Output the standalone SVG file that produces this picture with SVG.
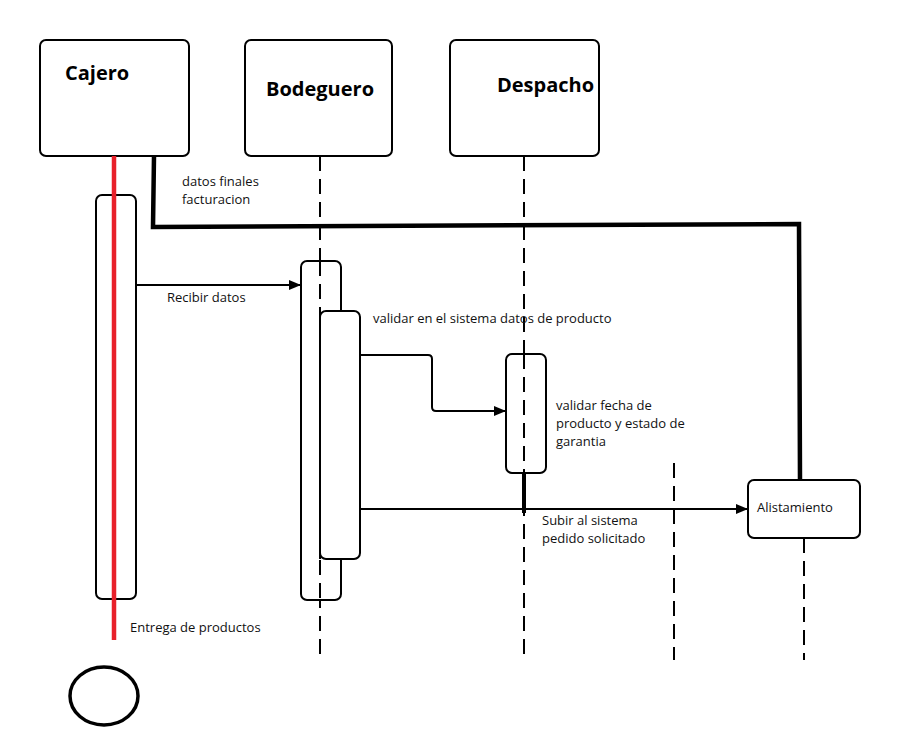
<svg xmlns="http://www.w3.org/2000/svg" width="900" height="756" viewBox="0 0 900 756">
<style>
.box{fill:#fff;stroke:#000;stroke-width:2}
.act{fill:#fff;stroke:#000;stroke-width:2}
.life{stroke:#000;stroke-width:2;stroke-dasharray:15 8;fill:none}
.title{font-family:"Open Sans","Liberation Sans",sans-serif;font-weight:bold;font-size:20px;fill:#000}
.lbl{font-family:"Open Sans","Liberation Sans",sans-serif;font-size:13px;fill:#111}
.msg{stroke:#000;stroke-width:2;fill:none}
.thick{stroke:#000;stroke-width:4.5;fill:none;stroke-linejoin:miter}
</style>
<defs>
<marker id="ah" markerWidth="12" markerHeight="10" refX="11" refY="5" orient="auto" markerUnits="userSpaceOnUse">
<path d="M0,0 L12,5 L0,10 Z" fill="#000"/>
</marker>
</defs>
<rect width="900" height="756" fill="#fff"/>
<g id="lifelines">
<line class="life" x1="320" y1="156" x2="320" y2="660"/>
<line class="life" x1="524" y1="156" x2="524" y2="660"/>
<line class="life" x1="674" y1="463" x2="674" y2="660"/>
<line class="life" x1="804" y1="538" x2="804" y2="660"/>
</g>
<g id="cajero">
<rect class="box" x="40" y="40" width="149" height="116" rx="6"/>
<text class="title" x="65" y="80">Cajero</text>
</g>
<g id="bodeguero">
<rect class="box" x="245" y="40" width="147" height="116" rx="6"/>
<text class="title" x="266" y="96">Bodeguero</text>
</g>
<g id="despacho">
<rect class="box" x="450" y="40" width="149" height="116" rx="6"/>
<text class="title" x="497" y="92">Despacho</text>
</g>
<g id="cajero-activation">
<rect class="act" x="96" y="195" width="40" height="404" rx="6"/>
</g>
<g id="bodeguero-activation">
<rect class="act" x="301" y="261" width="40" height="339" rx="6"/>
<line class="life" x1="320" y1="261" x2="320" y2="600"/>
<rect class="act" x="320" y="311" width="40" height="248" rx="6"/>
<line x1="320" y1="311" x2="320" y2="559" stroke="#000" stroke-width="2"/>
</g>
<g id="despacho-activation">
<rect class="act" x="506" y="354" width="40" height="119" rx="6"/>
<line class="life" x1="524" y1="354" x2="524" y2="473"/>
</g>
<g id="alistamiento">
<rect class="box" x="748" y="480" width="112" height="58" rx="6"/>
<text class="lbl" x="757" y="512">Alistamiento</text>
</g>
<g id="end">
<ellipse cx="104" cy="696" rx="34" ry="29" fill="none" stroke="#000" stroke-width="3.5"/>
</g>
<g id="connectors">
<line x1="114" y1="156" x2="114" y2="640" stroke="#e8202a" stroke-width="4.5"/>
<polyline class="thick" points="154,156 153,227 799,224 800,480"/>
<line class="msg" x1="136" y1="285" x2="300" y2="285" marker-end="url(#ah)"/>
<path class="msg" d="M360,355 H428 Q432,355 432,359 V407 Q432,411 436,411 H505" marker-end="url(#ah)"/>
<line class="msg" x1="360" y1="509" x2="747" y2="509" marker-end="url(#ah)"/>
<line x1="524" y1="473" x2="524" y2="513" stroke="#000" stroke-width="4"/>
</g>
<g id="labels">
<text class="lbl" x="182" y="186">datos finales</text>
<text class="lbl" x="182" y="204">facturacion</text>
<text class="lbl" x="167" y="302">Recibir datos</text>
<text class="lbl" x="373" y="323">validar en el sistema datos de producto</text>
<text class="lbl" x="556" y="410">validar fecha de</text>
<text class="lbl" x="556" y="428">producto y estado de</text>
<text class="lbl" x="556" y="446">garantia</text>
<text class="lbl" x="542" y="525">Subir al sistema</text>
<text class="lbl" x="542" y="543">pedido solicitado</text>
<text class="lbl" x="130" y="632">Entrega de productos</text>
</g>
</svg>
